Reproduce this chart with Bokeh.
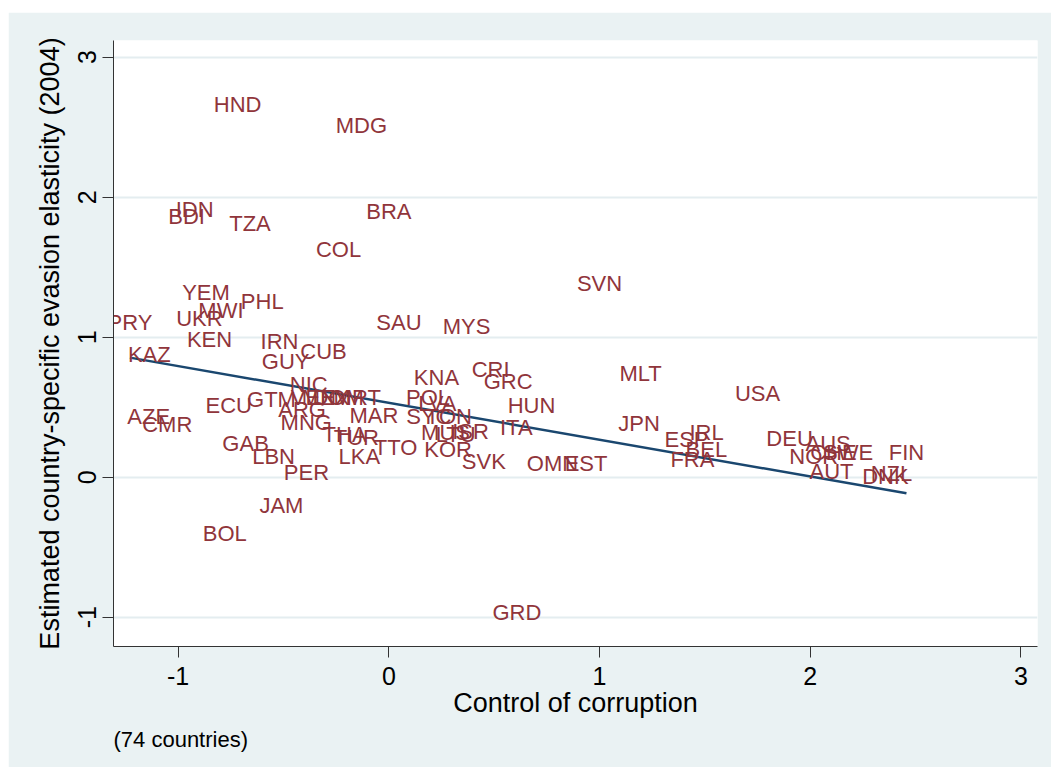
import numpy as np
from bokeh.plotting import figure
from bokeh.models import ColumnDataSource, Range1d, Title, FixedTicker
from bokeh.core.properties import value
from bokeh.embed import file_html
from bokeh.resources import INLINE

countries = ["HND", "MDG", "IDN", "BDI", "TZA", "BRA", "COL", "SVN", "YEM", "PHL",
             "MWI", "UKR", "PRY", "SAU", "KEN", "IRN", "CUB", "KAZ", "GUY", "NIC",
             "GTM", "VEN", "MEX", "DOM", "MRT", "ECU", "ARG", "AZE", "CMR", "MNG",
             "MAR", "THA", "TUR", "GAB", "LBN", "LKA", "TTO", "PER", "KNA", "CRI",
             "GRC", "POL", "LVA", "HUN", "SYC", "TON", "MUS", "LTU", "ISR", "ITA",
             "KOR", "SVK", "OMN", "EST", "MYS", "MLT", "USA", "JPN", "GRD", "JAM",
             "BOL", "ESP", "IRL", "BEL", "FRA", "DEU", "AUS", "NOR", "CHE", "SWE",
             "AUT", "FIN", "DNK", "NZL"]
control_of_corruption = [-0.718, -0.130, -0.922, -0.960, -0.659, 0.000, -0.239, 1.000, -0.868, -0.601,
                         -0.797, -0.899, -1.229, 0.048, -0.851, -0.519, -0.310, -1.137, -0.490, -0.380,
                         -0.557, -0.358, -0.300, -0.240, -0.150, -0.760, -0.412, -1.140, -1.052, -0.392,
                         -0.071, -0.210, -0.154, -0.680, -0.547, -0.140, 0.032, -0.391, 0.226, 0.483,
                         0.566, 0.186, 0.230, 0.677, 0.190, 0.285, 0.269, 0.317, 0.388, 0.605,
                         0.281, 0.451, 0.777, 0.936, 0.369, 1.195, 1.750, 1.188, 0.608, -0.510,
                         -0.779, 1.413, 1.508, 1.507, 1.441, 1.902, 2.085, 2.017, 2.110, 2.180,
                         2.101, 2.457, 2.357, 2.386]
evasion_elasticity = [2.659, 2.512, 1.912, 1.859, 1.809, 1.901, 1.626, 1.384, 1.319, 1.253,
                      1.194, 1.131, 1.106, 1.107, 0.987, 0.967, 0.899, 0.875, 0.828, 0.661,
                      0.555, 0.571, 0.571, 0.571, 0.571, 0.511, 0.482, 0.435, 0.373, 0.391,
                      0.444, 0.305, 0.286, 0.244, 0.148, 0.148, 0.214, 0.034, 0.714, 0.768,
                      0.685, 0.566, 0.530, 0.512, 0.435, 0.435, 0.316, 0.305, 0.328, 0.355,
                      0.196, 0.114, 0.101, 0.098, 1.076, 0.741, 0.598, 0.384, -0.964, -0.204,
                      -0.401, 0.271, 0.316, 0.199, 0.125, 0.280, 0.244, 0.151, 0.173, 0.173,
                      0.042, 0.173, 0.006, 0.026]
# linear fit shown in the figure
fit_intercept = 0.531
fit_slope = -0.263
x_ticks = [-1, 0, 1, 2, 3]
y_ticks = [-1, 0, 1, 2, 3]
note_text = "(74 countries)"

x = np.array(control_of_corruption)
fit_x = [x.min(), x.max()]
fit_y = [fit_intercept + fit_slope * v for v in fit_x]

BG = "#EAF2F3"
FONT = "Liberation Sans"

p = figure(width=1043, height=755, output_backend="svg", toolbar_location=None,
           x_range=Range1d(-1.307, 3.079), y_range=Range1d(-1.209, 3.119),
           min_border_left=105, min_border_right=14, min_border_top=28, min_border_bottom=121)
p.margin = (12, 0, 0, 8)
p.background_fill_color = "white"
p.border_fill_color = BG
p.outline_line_color = None

p.xgrid.visible = False
p.ygrid.grid_line_color = "#E4EDF0"
p.ygrid.grid_line_width = 2
p.ygrid.ticker = FixedTicker(ticks=y_ticks)

for ax in (p.xaxis[0], p.yaxis[0]):
    ax.axis_line_color = "#333333"
    ax.major_tick_line_color = "#333333"
    ax.major_tick_out = 11
    ax.major_tick_in = 0
    ax.minor_tick_line_color = None
    ax.major_label_text_font = FONT
    ax.major_label_text_font_size = "25px"
    ax.major_label_text_color = "black"
    ax.axis_label_text_font = FONT
    ax.axis_label_text_font_size = "27px"
    ax.axis_label_text_font_style = "normal"
    ax.axis_label_text_color = "black"

p.xaxis.ticker = FixedTicker(ticks=x_ticks)
p.yaxis.ticker = FixedTicker(ticks=y_ticks)
p.xaxis.major_label_overrides = {t: str(t) for t in x_ticks}
p.yaxis.major_label_overrides = {t: str(t) for t in y_ticks}
p.xaxis.axis_label = "Control of corruption"
p.yaxis.axis_label = "Estimated country-specific evasion elasticity (2004)"
p.xaxis.major_label_standoff = 9
p.xaxis.axis_label_standoff = 0
p.yaxis.major_label_standoff = 6
p.yaxis.axis_label_standoff = 11
p.yaxis.major_label_orientation = "vertical"

p.line(fit_x, fit_y, line_color="#1A476F", line_width=2.5)

src = ColumnDataSource(dict(x=control_of_corruption, y=evasion_elasticity, t=countries))
p.text(x="x", y="y", text="t", source=src, text_align="center", text_baseline="middle",
       text_color="#90353B", text_font_size="22px", text_font=value(FONT))

note = Title(text=note_text, align="left", text_font=FONT, text_font_size="22px",
             text_font_style="normal", text_color="black", standoff=8)
p.add_layout(note, "below")

open("out.html", "w").write(file_html(p, INLINE))
